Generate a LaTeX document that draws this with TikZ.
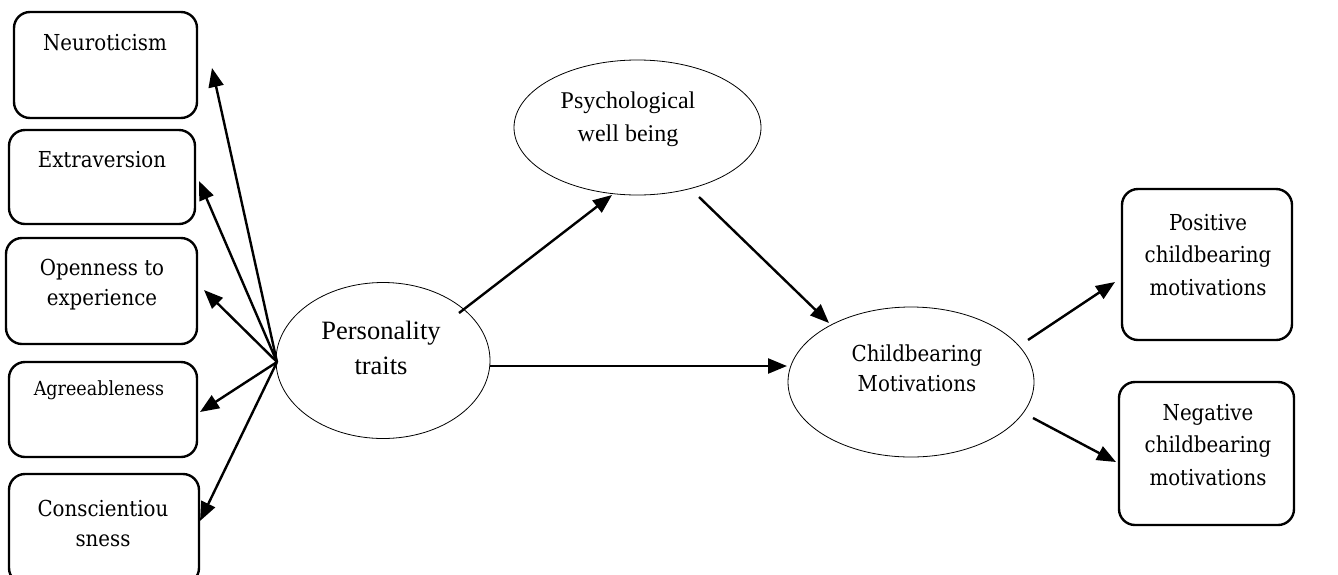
\documentclass[tikz,border=0pt]{standalone}
\usepackage{fontspec}
\setmainfont{Liberation Serif}
\newfontfamily\cambria{DejaVu Serif Condensed}
\usetikzlibrary{arrows.meta,shapes.geometric}
\begin{document}
\begin{tikzpicture}[x=1pt,y=-1pt,
  box/.style={draw,line width=2.4pt,rounded corners=16pt,inner sep=0pt},
  oval/.style={draw,ellipse,line width=0.8pt,inner sep=0pt},
  btxt/.style={font=\cambria\fontsize{22}{30}\selectfont,align=center,inner sep=0pt},
  ttxt/.style={font=\fontsize{26.5}{35}\selectfont,align=center,inner sep=0pt},
  arr/.style={line width=2.4pt,-{Triangle[length=19pt,width=15pt]}}]
\useasboundingbox (0,0) rectangle (1338,574);
\clip (0,0) rectangle (1338,574);
% left boxes
\node[box,minimum width=183pt,minimum height=106pt] (neu) at (105.5,65) {};
\node[box,minimum width=186pt,minimum height=94pt] (ext) at (102,177) {};
\node[box,minimum width=191pt,minimum height=106pt] (ope) at (101.5,291) {};
\node[box,minimum width=188pt,minimum height=95pt] (agr) at (103,409.5) {};
\node[box,minimum width=190pt,minimum height=110pt] (con) at (104,529) {};
\node[btxt] (neuT) at (105,43) {Neuroticism};
\node[btxt] (extT) at (102,160) {Extraversion};
\node[btxt] (opeT) at (102,285) {Openness to\\experience};
\node[btxt,font=\cambria\fontsize{19.5}{30}\selectfont] (agrT) at (99,390) {Agreeableness};
\node[btxt] (conT) at (103,523) {Conscientiou\\sness};
% ellipses
\node[oval,minimum width=214pt,minimum height=156pt] (pt) at (383,360.5) {};
\node[ttxt] (ptT) at (381,348) {Personality\\traits};
\node[oval,minimum width=247pt,minimum height=135pt] (pwb) at (637.5,127.5) {};
\node[ttxt,font=\fontsize{24}{33}\selectfont] (pwbT) at (628,119) {Psychological\\well being};
\node[oval,minimum width=246pt,minimum height=150pt] (cm) at (911,382) {};
\node[btxt,font=\cambria\fontsize{22}{30}\selectfont] (cmT) at (917,368) {Childbearing\\Motivations};
% right boxes
\node[box,minimum width=170pt,minimum height=151pt] (pos) at (1207,264.5) {};
\node[box,minimum width=175pt,minimum height=143pt] (neg) at (1206.5,453.5) {};
\node[btxt,font=\cambria\fontsize{22}{32.5}\selectfont] (posT) at (1208,255) {Positive\\childbearing\\motivations};
\node[btxt,font=\cambria\fontsize{22}{32.5}\selectfont] (negT) at (1208,445) {Negative\\childbearing\\motivations};
% connector ends
\coordinate (fan) at (277,362);
\coordinate (tN) at (212,68);
\coordinate (tE) at (199,181);
\coordinate (tO) at (204,290);
\coordinate (tA) at (200,412);
\coordinate (tC) at (200,521);
\coordinate (s1) at (459,313);
\coordinate (e1) at (612,195);
\coordinate (s2) at (699,197);
\coordinate (e2) at (829,323);
\coordinate (s3) at (490,366);
\coordinate (e3) at (787,366);
\coordinate (s4) at (1028,340);
\coordinate (e4) at (1115,282);
\coordinate (s5) at (1033,418);
\coordinate (e5) at (1116,462);
\draw[arr] (fan) -- (tN);
\draw[arr] (fan) -- (tE);
\draw[arr] (fan) -- (tO);
\draw[arr] (fan) -- (tA);
\draw[arr] (fan) -- (tC);
\draw[arr] (s1) -- (e1);
\draw[arr] (s2) -- (e2);
\draw[arr] (s3) -- (e3);
\draw[arr] (s4) -- (e4);
\draw[arr] (s5) -- (e5);
\end{tikzpicture}
\end{document}
